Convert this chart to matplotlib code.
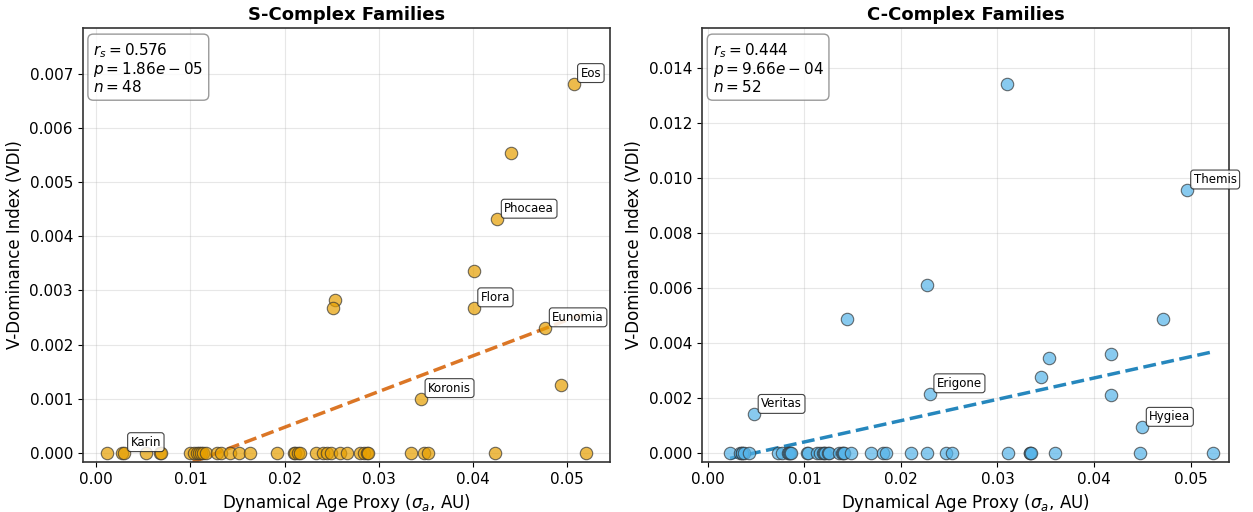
import matplotlib
matplotlib.use("Agg")
import matplotlib.pyplot as plt
import numpy as np

# ── S-complex families ──────────────────────────────────────────────────────
s_age = [0.0507, 0.0441, 0.0426, 0.0401, 0.0401, 0.0477, 0.0254, 0.0251,
         0.0345, 0.0494,
         0.0011, 0.0027, 0.0029, 0.0053, 0.0068, 0.0069,
         0.0100, 0.0104, 0.0107, 0.0109, 0.0111, 0.0113, 0.0116, 0.0128,
         0.0132, 0.0142, 0.0152, 0.0163, 0.0192, 0.0210, 0.0211, 0.0214,
         0.0216, 0.0233, 0.0241, 0.0245, 0.0249, 0.0259, 0.0266, 0.0280,
         0.0284, 0.0288, 0.0289, 0.0334, 0.0348, 0.0352, 0.0423, 0.0520]
s_vdi = [0.00683, 0.00555, 0.00432, 0.00336, 0.00268, 0.00231, 0.00282,
         0.00267, 0.00100, 0.00126] + [0.0] * 38
s_names = {"Eos": 0, "Phocaea": 2, "Flora": 4, "Eunomia": 5,
           "Koronis": 8, "Karin": 12}
s_stats = ("0.576", "1.86e-05", "48")
s_fit = (0.0661, 0.01291)          # slope, x-intercept of dashed trend
s_xlim = (-0.00145, 0.05455)

# ── C-complex families ──────────────────────────────────────────────────────
c_age = [0.0310, 0.0496, 0.0227, 0.0144, 0.0471, 0.0353, 0.0418, 0.0345,
         0.0230, 0.0418, 0.0048, 0.0450,
         0.0023, 0.0033, 0.0035, 0.0035, 0.0037, 0.0043,
         0.0073, 0.0077, 0.0083, 0.0084, 0.0085, 0.0086,
         0.0103, 0.0104, 0.0113, 0.0116, 0.0119, 0.0120, 0.0121, 0.0124,
         0.0125, 0.0136, 0.0139, 0.0140, 0.0141, 0.0148,
         0.0169, 0.0181, 0.0184, 0.0210, 0.0227, 0.0247, 0.0253,
         0.0311, 0.0334, 0.0334, 0.0335, 0.0360, 0.0448, 0.0523]
c_vdi = [0.01342, 0.00955, 0.00611, 0.00484, 0.00484, 0.00344, 0.00360,
         0.00275, 0.00214, 0.00208, 0.00139, 0.00092] + [0.0] * 40
c_names = {"Themis": 1, "Erigone": 8, "Veritas": 10, "Hygiea": 11}
c_stats = ("0.444", "9.66e-04", "52")
c_fit = (0.0775, 0.00500)
c_xlim = (-0.0006, 0.0540)


def panel(ax, x, y, names, stats, fit, xlim, fc, lc, title):
    x = np.asarray(x); y = np.asarray(y)
    ax.scatter(x, y, s=80, c=fc, alpha=0.7, edgecolors="#333333",
               linewidths=0.8, zorder=3)
    xx = np.array([x.min(), x.max()])
    ax.plot(xx, fit[0] * (xx - fit[1]), "--", color=lc, lw=2.5, alpha=0.85,
            zorder=2)
    for name, i in names.items():
        ax.annotate(name, (x[i], y[i]), xytext=(5, 5),
                    textcoords="offset points", fontsize=8.5,
                    bbox=dict(boxstyle="round,pad=0.25", fc="white",
                              ec="#222222", lw=0.8, alpha=0.85), zorder=4)
    r, p, n = stats
    mant, ex = p.split("e")
    txt = (f"$r_s = {r}$\n$p = {mant}e - {ex[1:]}$\n$n = {n}$")
    ax.text(0.02, 0.97, txt, transform=ax.transAxes, fontsize=11, va="top",
            linespacing=1.0,
            bbox=dict(boxstyle="round,pad=0.35", fc="white", ec="gray",
                      alpha=0.8))
    ax.set_xlim(*xlim)
    ax.set_ylim(-0.025 * y.max(), 1.15 * y.max())
    ax.set_xlabel(r"Dynamical Age Proxy ($\sigma_a$, AU)", fontsize=12)
    ax.set_ylabel("V-Dominance Index (VDI)", fontsize=12)
    ax.set_title(title, fontsize=13, fontweight="bold")
    ax.grid(True, alpha=0.3)
    ax.tick_params(labelsize=11)
    for sp in ax.spines.values():
        sp.set_color("#333333"); sp.set_linewidth(1.2)


fig, (ax1, ax2) = plt.subplots(1, 2, figsize=(12.53, 5.12), dpi=100)
panel(ax1, s_age, s_vdi, s_names, s_stats, s_fit, s_xlim, "#E69F00",
      "#D55E00", "S-Complex Families")
panel(ax2, c_age, c_vdi, c_names, c_stats, c_fit, c_xlim, "#56B4E9",
      "#0072B2", "C-Complex Families")
fig.subplots_adjust(left=0.066, right=0.981, bottom=0.098, top=0.945,
                    wspace=0.175)
fig.savefig("out.png", dpi=100)
